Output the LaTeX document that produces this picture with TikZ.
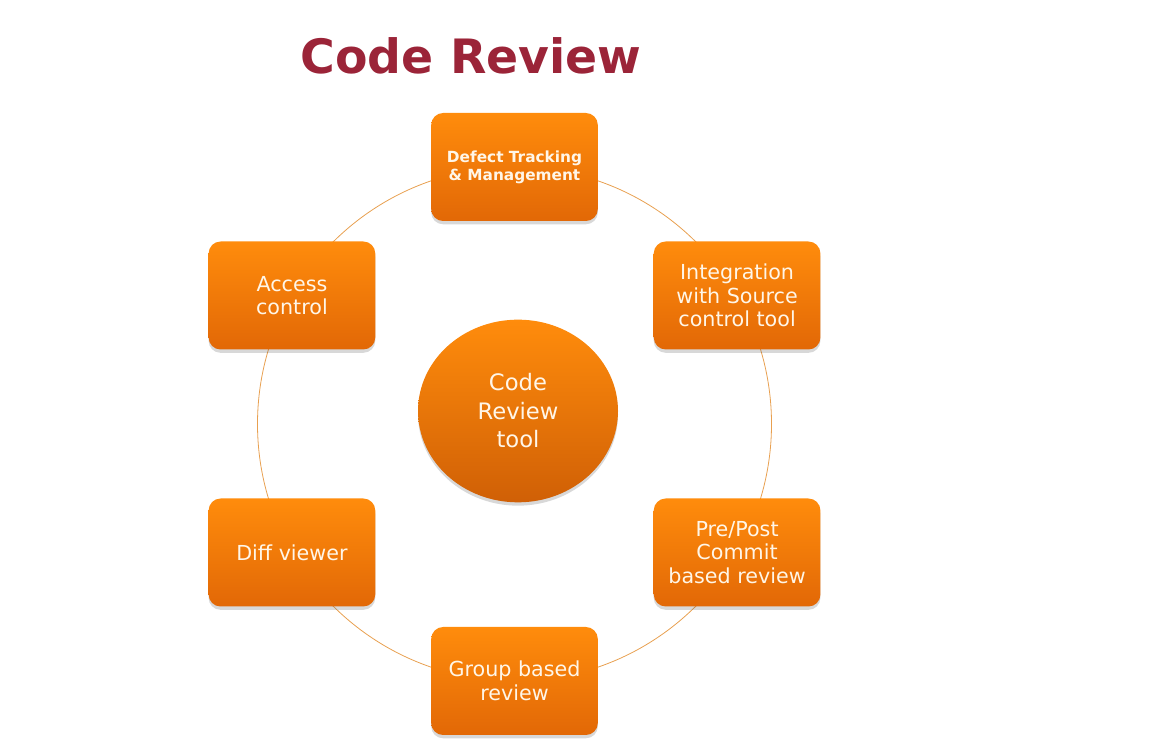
\documentclass[tikz,border=0pt]{standalone}
\usepackage{fontspec}
\setmainfont{DejaVu Sans}
\usepackage{tikz}
\usetikzlibrary{positioning, calc, shapes.geometric, shadows}

\definecolor{titlered}{RGB}{155,36,56}
\definecolor{boxtop}{RGB}{255,140,12}
\definecolor{boxbot}{RGB}{226,104,6}
\definecolor{ringline}{RGB}{232,160,80}
\definecolor{boxtext}{RGB}{255,246,232}

\begin{document}
\begin{tikzpicture}[x=0.75pt, y=0.75pt]
	% Define styles
	\tikzset{
		feature/.style={rectangle, rounded corners=9pt, top color=boxtop, bottom color=boxbot, draw=none, text=boxtext, align=center, minimum width=125pt, minimum height=81pt, inner sep=2pt, font=\fontsize{15.5}{17.6}\selectfont, drop shadow={shadow xshift=0pt, shadow yshift=-2.5pt, opacity=0.22, fill=black!70}},
		hub/.style={ellipse, top color=boxtop, bottom color=boxbot!92!black, draw=none, text=boxtext, align=center, minimum width=150pt, minimum height=137pt, font=\fontsize{17}{21.4}\selectfont, drop shadow={shadow xshift=0pt, shadow yshift=-2.5pt, opacity=0.22, fill=black!70}},
		ring/.style={draw=ringline, line width=0.6pt}
	}
	\useasboundingbox (0,0) rectangle (1149,749);
	
	% Title
	\node[text=titlered, font=\fontsize{35.5}{40}\selectfont\bfseries] (title) at (471,693) {Code Review};
	
	% Ring
	\coordinate (o) at (514.5,325);
	\draw[ring] (o) circle (257);
	
	% Nodes
	\node[hub] (hub) at (518,338) {Code\\Review\\tool};
	\node[feature, font=\fontsize{11.5}{13.5}\selectfont\bfseries] (defect) at ($(o)+(90:257)$) {Defect Tracking\\\& Management};
	\node[feature] (integ) at ($(o)+(30:257)$) {Integration\\with Source\\control tool};
	\node[feature] (commit) at ($(o)+(-30:257)$) {Pre/Post\\Commit\\based review};
	\node[feature] (group) at ($(o)+(-90:257)$) {Group based\\review};
	\node[feature] (diff) at ($(o)+(210:257)$) {Diff viewer};
	\node[feature] (access) at ($(o)+(150:257)$) {Access\\control};
	
\end{tikzpicture}
\end{document}
